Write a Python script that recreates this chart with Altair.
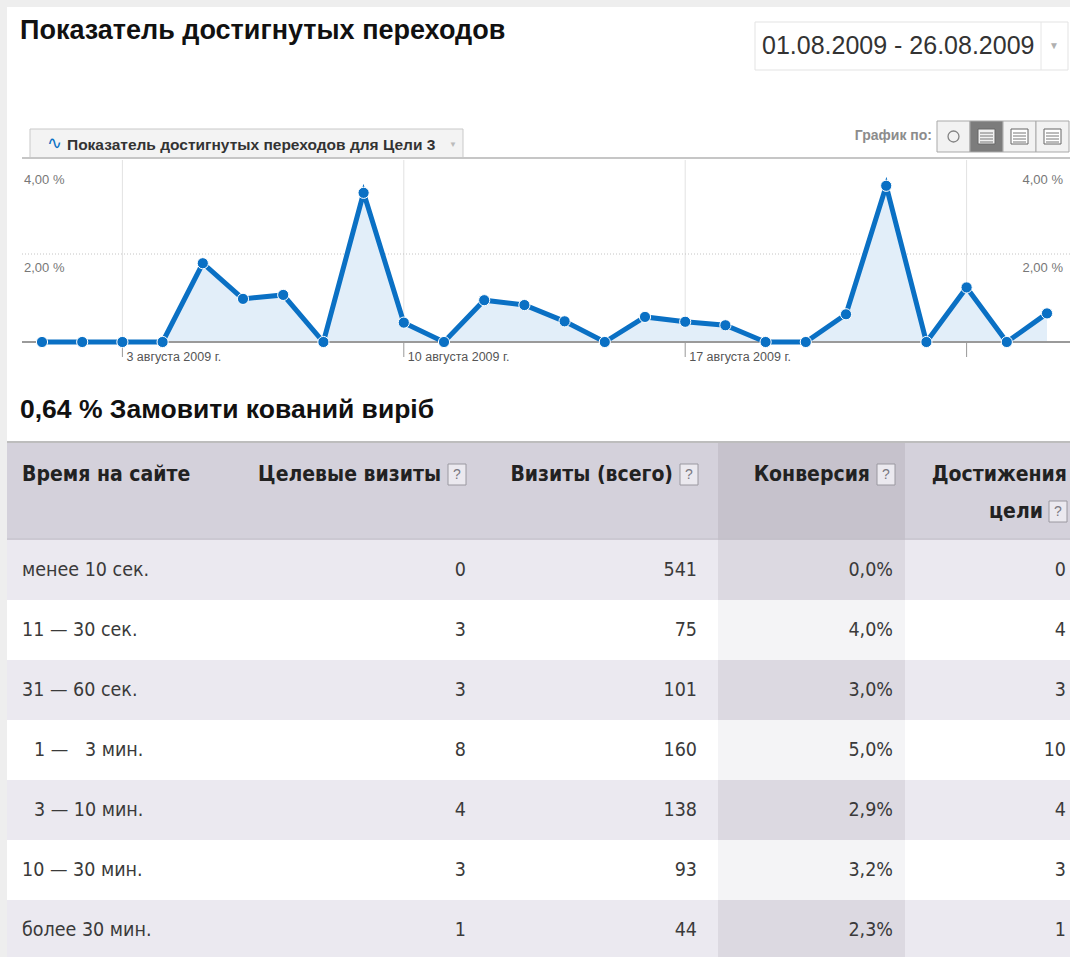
import altair as alt
import pandas as pd

# ---------------- data ----------------
days = list(range(1, 27))  # 1..26 August 2009
rates = [0, 0, 0, 0, 1.79, 0.98, 1.07, 0, 3.39, 0.44, 0, 0.95, 0.84, 0.47,
         0, 0.57, 0.46, 0.38, 0, 0, 0.63, 3.55, 0, 1.24, 0, 0.65]
week_days = [3, 10, 17, 24]
week_labels = ["3 августа 2009 г.", "10 августа 2009 г.", "17 августа 2009 г.", ""]
y_ticks = [2.0, 4.0]
y_tick_labels = ["2,00 %", "4,00 %"]

page_title = "Показатель достигнутых переходов"
date_range = "01.08.2009 - 26.08.2009"
series_name = "Показатель достигнутых переходов для Цели 3"
graph_by = "График по:"
goal_summary = "0,64 % Замовити кований виріб"

col_headers = ["Время на сайте", "Целевые визиты", "Визиты (всего)", "Конверсия", "Достижения", "цели"]
time_buckets = ["менее 10 сек.", "11 — 30 сек.", "31 — 60 сек.", " 1 — \u20073 мин.",
                " 3 — 10 мин.", "10 — 30 мин.", "более 30 мин."]
goal_visits = [0, 3, 3, 8, 4, 3, 1]
total_visits = [541, 75, 101, 160, 138, 93, 44]
conversion = ["0,0%", "4,0%", "3,0%", "5,0%", "2,9%", "3,2%", "2,3%"]
completions = [0, 4, 3, 10, 4, 3, 1]

# ---------------- styling ----------------
W, H = 1070, 957
BLUE = "#0a70c4"
FONT = "Liberation Sans"
NARROW = "DejaVu Sans Condensed, Liberation Sans, sans-serif"

one = pd.DataFrame({"k": [0]})


def box(x, x2, y, y2, fill, stroke=None, sw=1):
    kw = dict(fill=fill)
    if stroke:
        kw.update(stroke=stroke, strokeWidth=sw)
    return alt.Chart(one).mark_rect(**kw).encode(
        x=alt.value(x), x2=alt.value(x2), y=alt.value(y), y2=alt.value(y2))


def hline(x, x2, y, color, sw=1):
    return alt.Chart(one).mark_rule(color=color, strokeWidth=sw).encode(
        x=alt.value(x), x2=alt.value(x2), y=alt.value(y))


def vline(x, y, y2, color, sw=1):
    return alt.Chart(one).mark_rule(color=color, strokeWidth=sw).encode(
        x=alt.value(x), y=alt.value(y), y2=alt.value(y2))


def label(text, x, y, size, color="#222", bold=False, align="left", font=FONT):
    return alt.Chart(pd.DataFrame({"t": [text]})).mark_text(
        align=align, baseline="middle", fontSize=size, font=font,
        fontWeight="bold" if bold else "normal", color=color
    ).encode(x=alt.value(x), y=alt.value(y), text="t:N")


def qbox(x, y):
    return [box(x, x + 18, y - 11, y + 10, "#ebe9ef", "#9a98a0", 1),
            label("?", x + 9, y, 14, "#7a7880", align="center")]


layers = []

# page frame
layers.append(box(7, W, 7, H, "#ffffff"))

# ---------------- header ----------------
layers.append(label(page_title, 20, 31, 27, "#111111", bold=True))
layers.append(box(755, 1068, 22, 70, "#ffffff", "#e3e3e3"))
layers.append(vline(1041, 22, 70, "#e6e6e6"))
layers.append(label(date_range, 762, 46, 25, "#333333"))
layers.append(label("▼", 1054, 46, 10, "#b0b0b0", align="center"))

# series tab
layers.append(box(30, 463, 129, 158, "#f3f3f3", "#c9c9c9"))
layers.append(label("∿", 54, 144, 18, BLUE, align="center"))
layers.append(label(series_name, 67, 145, 15.5, "#333333", bold=True))
layers.append(label("▼", 453, 145, 8, "#bbbbbb", align="center"))
layers.append(hline(22, W, 158, "#c6c6c6", 2))

# "graph by" buttons
layers.append(label(graph_by, 932, 136, 14, "#8c8c8c", bold=True, align="right"))
btn_x = [937, 970, 1003, 1036]
for i, bx in enumerate(btn_x):
    active = i == 1
    layers.append(box(bx, bx + 33, 121, 152, "#7c7c7c" if active else "#f2f2f2", "#a9a9a9"))
    if i == 0:
        layers.append(alt.Chart(one).mark_point(shape="circle", size=120, color="#555555", strokeWidth=1.3)
                      .encode(x=alt.value(bx + 16.5), y=alt.value(136.5)))
    else:
        layers.append(box(bx + 8, bx + 25, 129, 144, "#ffffff" if not active else "#f0f0f0", "#666666"))
        for ly in (133, 136, 139, 142):
            layers.append(hline(bx + 10, bx + 23, ly, "#777777", 1))

# ---------------- line chart ----------------
df = pd.DataFrame({"day": days, "rate": rates})
xs = alt.Scale(domain=[1, 26], range=[42, 1047])
ys = alt.Scale(domain=[0, 4], range=[342, 166])
X = alt.X("day:Q", scale=xs, axis=None)
Y = alt.Y("rate:Q", scale=ys, axis=None)

wk = pd.DataFrame({"day": week_days, "lab": week_labels})
layers.append(alt.Chart(wk).mark_rule(color="#e2e2e2", strokeWidth=1).encode(
    x=alt.X("day:Q", scale=xs, axis=None), y=alt.value(160), y2=alt.value(342)))

yt = pd.DataFrame({"v": y_ticks, "lab": y_tick_labels})
layers.append(alt.Chart(yt).transform_filter("datum.v < 4").mark_rule(
    color="#c4c4c4", strokeWidth=1, strokeDash=[1, 2]).encode(
    y=alt.Y("v:Q", scale=ys, axis=None), x=alt.value(22), x2=alt.value(W)))

layers.append(alt.Chart(df).mark_area(color="#e2eef9", opacity=1).encode(x=X, y=Y))

layers.append(alt.Chart(pd.DataFrame({"z": [0]})).mark_rule(color="#9a9a9a", strokeWidth=2).encode(
    y=alt.Y("z:Q", scale=ys, axis=None), x=alt.value(22), x2=alt.value(W)))
layers.append(alt.Chart(wk).mark_rule(color="#999999", strokeWidth=1).encode(
    x=alt.X("day:Q", scale=xs, axis=None), y=alt.value(343), y2=alt.value(357)))
layers.append(alt.Chart(wk).mark_text(align="left", baseline="middle", dx=4, fontSize=12.5,
                                      font=FONT, color="#555555").encode(
    x=alt.X("day:Q", scale=xs, axis=None), y=alt.value(357), text="lab:N"))

layers.append(alt.Chart(df).mark_line(color=BLUE, strokeWidth=5).encode(x=X, y=Y))
layers.append(alt.Chart(df).mark_circle(size=125, color=BLUE, opacity=1, stroke="#ffffff",
                                        strokeWidth=1).encode(x=X, y=Y))

layers.append(alt.Chart(yt).mark_text(align="left", baseline="middle", dy=14, fontSize=13,
                                      font=FONT, color="#777777").encode(
    x=alt.value(24), y=alt.Y("v:Q", scale=ys, axis=None), text="lab:N"))
layers.append(alt.Chart(yt).mark_text(align="right", baseline="middle", dy=14, fontSize=13,
                                      font=FONT, color="#777777").encode(
    x=alt.value(1063), y=alt.Y("v:Q", scale=ys, axis=None), text="lab:N"))

# ---------------- table ----------------
layers.append(label(goal_summary, 20, 410, 26.5, "#111111", bold=True))
layers.append(hline(7, W, 442, "#bdbdbd", 2))
layers.append(box(7, W, 443, 540, "#d4d1db"))
layers.append(box(718, 905, 443, 540, "#c6c2cc"))
layers.append(hline(7, W, 539, "#c3c0c9", 1))

HS = 21
layers.append(label(col_headers[0], 22, 475, HS, "#222222", bold=True, font=NARROW))
layers.append(label(col_headers[1], 441, 475, HS, "#222222", bold=True, align="right", font=NARROW))
layers += qbox(448, 475)
layers.append(label(col_headers[2], 673, 475, HS, "#222222", bold=True, align="right", font=NARROW))
layers += qbox(680, 475)
layers.append(label(col_headers[3], 870, 475, HS, "#222222", bold=True, align="right", font=NARROW))
layers += qbox(877, 475)
layers.append(label(col_headers[4], 1067, 475, HS, "#222222", bold=True, align="right", font=NARROW))
layers.append(label(col_headers[5], 1043, 512, HS, "#222222", bold=True, align="right", font=NARROW))
layers += qbox(1049, 512)

tbl = pd.DataFrame({"row": list(range(7)), "bucket": time_buckets, "goal": goal_visits,
                    "visits": total_visits, "conv": conversion, "done": completions})
rs = alt.Scale(domain=[0, 6], range=[570, 930])
RY = alt.Y("row:Q", scale=rs, axis=None)

layers.append(alt.Chart(tbl).transform_calculate(
    top="datum.row - 0.5", bot="datum.row + 0.5",
    fill="datum.row % 2 == 0 ? '#ebe9f0' : '#ffffff'").mark_rect().encode(
    x=alt.value(7), x2=alt.value(W), y=alt.Y("top:Q", scale=rs, axis=None), y2="bot:Q",
    color=alt.Color("fill:N", scale=None)))
layers.append(alt.Chart(tbl).transform_calculate(
    top="datum.row - 0.5", bot="datum.row + 0.5",
    fill="datum.row % 2 == 0 ? '#dcd9e1' : '#f4f4f6'").mark_rect().encode(
    x=alt.value(718), x2=alt.value(905), y=alt.Y("top:Q", scale=rs, axis=None), y2="bot:Q",
    color=alt.Color("fill:N", scale=None)))

BS = 19.5


def col_text(field, x, align):
    return alt.Chart(tbl).mark_text(align=align, baseline="middle", font=NARROW, fontSize=BS,
                                    color="#3a3a3a").encode(
        x=alt.value(x), y=RY, text=f"{field}:N")


# first column: a leading space in the label means the single-digit range is indented
layers.append(alt.Chart(tbl).transform_calculate(
    xpos="22 + (substring(datum.bucket, 0, 1) == ' ' ? 12 : 0)",
    lab="trim(datum.bucket)").mark_text(
    align="left", baseline="middle", font=NARROW, fontSize=BS, color="#3a3a3a").encode(
    x=alt.X("xpos:Q", scale=None, axis=None), y=RY, text="lab:N"))
layers.append(col_text("goal", 466, "right"))
layers.append(col_text("visits", 697, "right"))
layers.append(col_text("conv", 893, "right"))
layers.append(col_text("done", 1066, "right"))

chart = alt.layer(*layers).resolve_scale(x="independent", y="independent").properties(
    width=W, height=H, autosize=alt.AutoSizeParams(type="none"), padding=0,
    background="#eeeeee").configure_view(stroke=None)

chart.save("out.html", embed_options={"renderer": "svg", "actions": False})
